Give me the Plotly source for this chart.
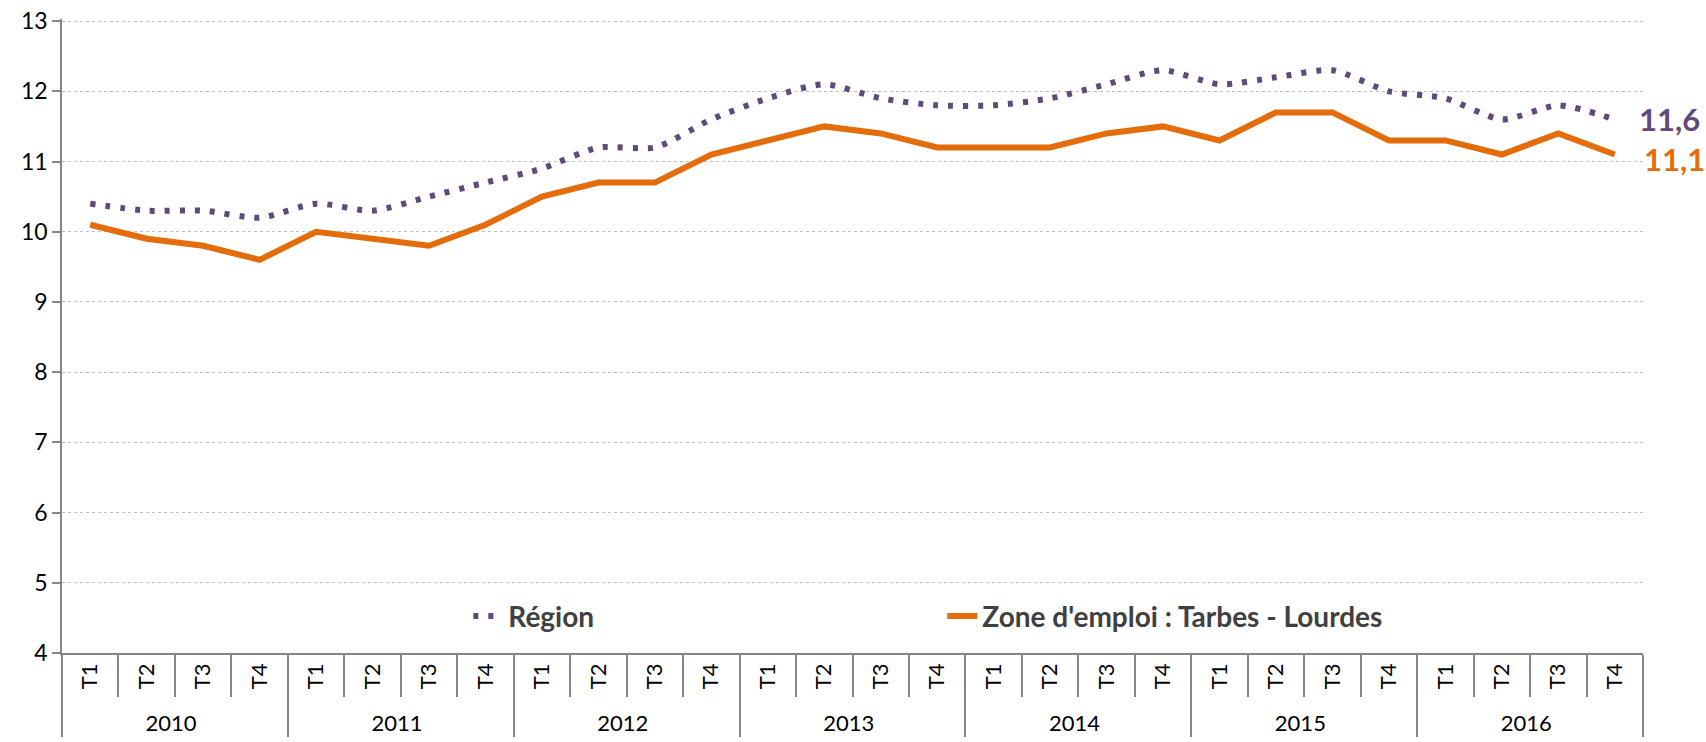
import plotly.graph_objects as go

years = ["2010", "2011", "2012", "2013", "2014", "2015", "2016"]
quarters = ["T1", "T2", "T3", "T4"]

region = [10.4, 10.3, 10.3, 10.2,
          10.4, 10.3, 10.5, 10.7,
          10.9, 11.2, 11.2, 11.6,
          11.9, 12.1, 11.9, 11.8,
          11.8, 11.9, 12.1, 12.3,
          12.1, 12.2, 12.3, 12.0,
          11.9, 11.6, 11.8, 11.6]

zone = [10.1, 9.9, 9.8, 9.6,
        10.0, 9.9, 9.8, 10.1,
        10.5, 10.7, 10.7, 11.1,
        11.3, 11.5, 11.4, 11.2,
        11.2, 11.2, 11.4, 11.5,
        11.3, 11.7, 11.7, 11.3,
        11.3, 11.1, 11.4, 11.1]

names = ["Région", "Zone d'emploi : Tarbes - Lourdes"]
PURPLE = "#604A7B"
ORANGE = "#E46C0A"
GREY = "#868686"
FONT = "Lato"


def fr(v):
    return f"{v:.1f}".replace(".", ",")


x_years = [y for y in years for _ in quarters]
x_quarters = [q for _ in years for q in quarters]
x = [x_years, x_quarters]
n = len(x_quarters)

fig = go.Figure()
fig.add_trace(go.Scatter(
    x=x, y=region, name=names[0], mode="lines",
    line=dict(color=PURPLE, width=6, dash="5px,10px", shape="spline", smoothing=0.7),
))
fig.add_trace(go.Scatter(
    x=x, y=zone, name=names[1], mode="lines",
    line=dict(color=ORANGE, width=6),
))

fig.add_annotation(xref="paper", x=1, y=region[-1], yref="y", xanchor="left",
                   xshift=-6, text="<b>" + fr(region[-1]) + "</b>",
                   showarrow=False, font=dict(family=FONT, size=31, color=PURPLE))
fig.add_annotation(xref="paper", x=1, y=zone[-1], yref="y", xanchor="left",
                   xshift=-1, yshift=-4, text="<b>" + fr(zone[-1]) + "</b>",
                   showarrow=False, font=dict(family=FONT, size=31, color=ORANGE))

fig.update_layout(
    width=1706, height=742,
    margin=dict(l=62, r=63, t=19, b=89, autoexpand=False),
    paper_bgcolor="white", plot_bgcolor="white",
    font=dict(family=FONT, size=22, color="black"),
    showlegend=True,
    legend=dict(
        orientation="h", x=0.257, y=0.058, xanchor="left", yanchor="middle",
        bgcolor="rgba(0,0,0,0)",
        font=dict(family=FONT, size=28, color="#404040", weight="bold"),
        entrywidth=429, entrywidthmode="pixels",
    ),
)

fig.update_yaxes(
    range=[4, 13.03], tick0=4, dtick=1, tickformat="d", automargin=False,
    showline=True, linecolor=GREY, linewidth=1.5,
    ticks="outside", ticklen=8, tickcolor=GREY, tickwidth=1.5,
    showgrid=True, gridcolor="#BFBFBF", griddash="dot", gridwidth=1,
    zeroline=False, tickfont=dict(size=23), ticklabeloverflow="allow",
)
fig.update_xaxes(
    type="multicategory", range=[-0.5, n - 0.5], automargin=False,
    showline=True, linecolor=GREY, linewidth=1.5,
    ticks="outside", tickson="boundaries", ticklen=42, tickcolor=GREY, tickwidth=1.5,
    showdividers=True, dividercolor=GREY, dividerwidth=1.5,
    tickangle=-90, tickfont=dict(size=22),
    showgrid=False, zeroline=False,
)

# remove the default 8px page margin so the figure fills the window exactly
fig.write_html("out.html", config={"displayModeBar": False},
               post_script="document.body.style.margin='0px';")
